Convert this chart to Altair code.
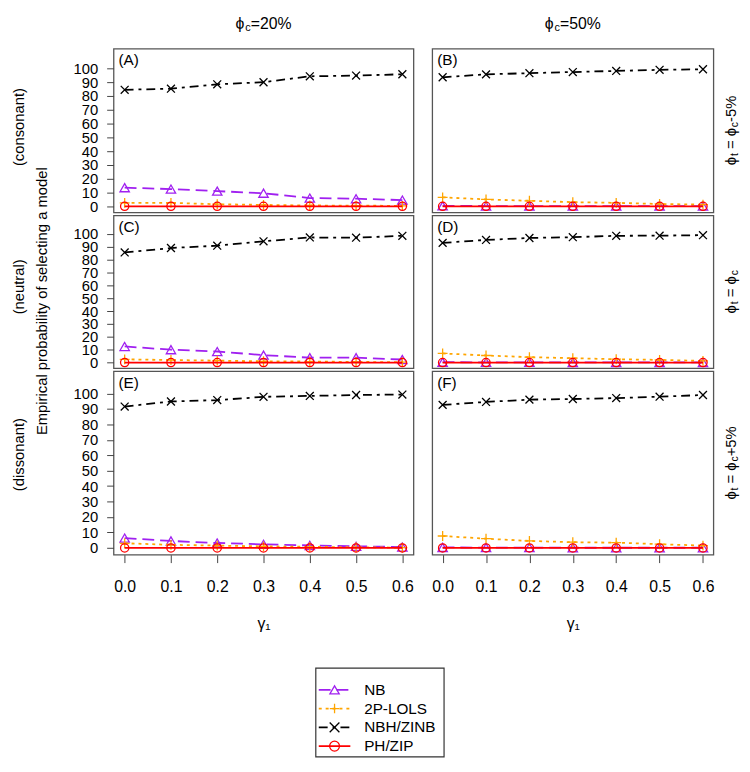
import altair as alt
import pandas as pd

# ---------------- data ----------------
gamma = [0.0, 0.1, 0.2, 0.3, 0.4, 0.5, 0.6]
series_names = ["NB", "2P-LOLS", "NBH/ZINB", "PH/ZIP"]
y_ticks = [0, 10, 20, 30, 40, 50, 60, 70, 80, 90, 100]

col_titles = ["=20%", "=50%"]
row_left_labels = ["(consonant)", "(neutral)", "(dissonant)"]
row_right_suffix = ["-5%", "", "+5%"]
panel_letters = ["(A)", "(B)", "(C)", "(D)", "(E)", "(F)"]
y_title = "Empirical probability of selecting a model"
x_title = "γ₁"

# panel A: phi_c = 20%, consonant
A_nb = [13.5, 12.5, 11.0, 9.5, 6.0, 5.5, 4.5]
A_lols = [2.5, 2.5, 1.5, 1.0, 0.6, 0.5, 0.3]
A_nbh = [84.5, 85.3, 88.5, 90.0, 94.3, 94.8, 95.8]
A_ph = [0.0, 0.0, 0.0, 0.0, 0.0, 0.0, 0.0]
# panel B: phi_c = 50%, consonant
B_nb = [0.3, 0.2, 0.2, 0.1, 0.1, 0.1, 0.1]
B_lols = [6.5, 5.0, 4.0, 3.0, 2.5, 1.7, 1.2]
B_nbh = [93.6, 95.7, 96.6, 97.4, 98.2, 99.0, 99.4]
B_ph = [0.0, 0.0, 0.0, 0.0, 0.0, 0.0, 0.0]
# panel C: phi_c = 20%, neutral
C_nb = [12.5, 10.0, 8.6, 5.8, 3.8, 3.8, 2.4]
C_lols = [2.5, 2.0, 1.5, 1.0, 0.8, 0.5, 0.3]
C_nbh = [85.6, 89.0, 90.8, 94.2, 97.2, 97.0, 98.5]
C_ph = [0.0, 0.0, 0.0, 0.0, 0.0, 0.0, 0.0]
# panel D: phi_c = 50%, neutral
D_nb = [0.3, 0.2, 0.2, 0.1, 0.1, 0.1, 0.1]
D_lols = [7.1, 5.5, 4.2, 3.4, 2.6, 2.1, 1.3]
D_nbh = [93.0, 95.3, 96.8, 97.4, 98.5, 98.6, 99.0]
D_ph = [0.0, 0.0, 0.0, 0.0, 0.0, 0.0, 0.0]
# panel E: phi_c = 20%, dissonant
E_nb = [6.4, 4.5, 3.2, 2.3, 1.6, 1.0, 0.6]
E_lols = [3.0, 2.0, 1.5, 1.0, 0.7, 0.4, 0.2]
E_nbh = [91.5, 94.8, 95.7, 97.8, 98.4, 99.0, 99.3]
E_ph = [0.0, 0.0, 0.0, 0.0, 0.0, 0.0, 0.0]
# panel F: phi_c = 50%, dissonant
F_nb = [0.3, 0.2, 0.2, 0.1, 0.1, 0.1, 0.1]
F_lols = [7.7, 6.0, 4.5, 3.7, 3.4, 2.4, 1.5]
F_nbh = [92.6, 94.5, 96.0, 96.4, 97.0, 97.9, 99.0]
F_ph = [0.0, 0.0, 0.0, 0.0, 0.0, 0.0, 0.0]

PANELS = [
    [A_nb, A_lols, A_nbh, A_ph],
    [B_nb, B_lols, B_nbh, B_ph],
    [C_nb, C_lols, C_nbh, C_ph],
    [D_nb, D_lols, D_nbh, D_ph],
    [E_nb, E_lols, E_nbh, E_ph],
    [F_nb, F_lols, F_nbh, F_ph],
]

# ---------------- style ----------------
FONT = "Liberation Sans"
COLORS = ["#A020F0", "#FFA500", "#000000", "#FF0000"]
DASHES = [[12, 6], [3, 4], [9, 5, 3, 5], [1, 0]]
SHAPES = ["triangle-up", "M-1,0L1,0M0,-1L0,1", "M-1,-1L1,1M-1,1L1,-1", "circle"]
SIZES = [90, 100, 64, 70]
COL_W = [304, 285]
ROW_H = [166, 155, 186]
YDOM = [-4.4, 114.4]
XDOM = [-0.024, 0.624]
LEFT_TITLE_Y = [79, 72, 84]

CW = {"ϕ": 0.62, "c": 0.5, "t": 0.278, "=": 0.584, " ": 0.278, "-": 0.333,
      "+": 0.584, "%": 0.889}

NOVIEW = alt.ViewBackground(stroke="transparent")


def text_w(s, fs):
    return sum(CW.get(ch, 0.556) for ch in s) * fs


def rich(pieces, x, y, angle=0):
    total = sum(text_w(t, fs) for t, fs, dy in pieces)
    off = -total / 2
    out = []
    for t, fs, dy in pieces:
        lead = len(t) - len(t.lstrip(" "))
        s = t.strip(" ")
        out.append(
            alt.Chart(pd.DataFrame({"t": [s]}))
            .mark_text(align="left", baseline="middle", fontSize=fs,
                       dx=off + lead * CW[" "] * fs, dy=dy, angle=angle,
                       color="black")
            .encode(x=alt.value(x), y=alt.value(y), text="t:N")
        )
        off += text_w(t, fs)
    return out


def make_panel(r, c):
    idx = 2 * r + c
    w, h = COL_W[c], ROW_H[r]
    if c == 0:
        yaxis = alt.Axis(values=y_ticks, tickSize=7, labelPadding=9,
                         labelFontSize=15, labelOverlap=False, domain=False,
                         grid=False, tickColor="#444", labelColor="black",
                         title=row_left_labels[r], titleFontSize=15,
                         titleFontWeight="normal", titleColor="black",
                         titleAngle=270, titleBaseline="bottom",
                         titleAlign="center", titleX=-88,
                         titleY=LEFT_TITLE_Y[r])
    else:
        yaxis = None
    if r == 2:
        xaxis = alt.Axis(values=gamma, format=".1f", tickSize=8,
                         labelPadding=16, labelFontSize=16, labelFlush=False,
                         labelOverlap=False, domain=False, grid=False,
                         tickColor="#444", labelColor="black", title=x_title,
                         titleFontSize=16, titleFontWeight="normal",
                         titleColor="black", titlePadding=22)
    else:
        xaxis = None
    xenc = alt.X("gamma:Q", scale=alt.Scale(domain=XDOM, nice=False, zero=False), axis=xaxis)
    yenc = alt.Y("value:Q", scale=alt.Scale(domain=YDOM, nice=False, zero=False), axis=yaxis)
    layers = []
    for i, name in enumerate(series_names):
        df = pd.DataFrame({"gamma": gamma, "value": PANELS[idx][i]})
        kw = dict(color=COLORS[i], strokeWidth=1.8)
        if i != 3:
            kw["strokeDash"] = DASHES[i]
        layers.append(alt.Chart(df).mark_line(**kw).encode(x=xenc, y=yenc))
        layers.append(
            alt.Chart(df).mark_point(shape=SHAPES[i], size=SIZES[i], filled=False,
                                     color=COLORS[i], strokeWidth=1.3, opacity=1)
            .encode(x=xenc, y=yenc)
        )
    layers.append(
        alt.Chart(pd.DataFrame({"t": [panel_letters[idx]]}))
        .mark_text(align="left", baseline="top", fontSize=15.5, color="black")
        .encode(x=alt.value(5), y=alt.value(5), text="t:N")
    )
    if c == 0 and r == 1:
        layers.append(
            alt.Chart(pd.DataFrame({"t": [y_title]}))
            .mark_text(align="center", baseline="middle", fontSize=15,
                       angle=270, color="black")
            .encode(x=alt.value(-72), y=alt.value(87), text="t:N")
        )
    if c == 1:
        pieces = [("ϕ", 15, 0), ("t", 10.5, 4), (" = ϕ", 15, 0), ("c", 10.5, 4)]
        if row_right_suffix[r]:
            pieces.append((row_right_suffix[r], 15, 0))
        layers += rich(pieces, w + 18, h / 2, angle=270)
    return alt.layer(*layers).properties(width=w, height=h)


# title cells
titles = []
for c in range(2):
    lay = rich([("ϕ", 16, 0), ("c", 11, 4.5), (col_titles[c], 16, 0)], COL_W[c] / 2, 10)
    titles.append(alt.layer(*lay).properties(width=COL_W[c], height=32, view=NOVIEW))

panels = [make_panel(r, c) for r in range(3) for c in range(2)]

# legend (placed in the left column, extends to the right)
leg_df = pd.DataFrame({"series": series_names})
ly = alt.Y("series:N", scale=alt.Scale(type="point", domain=series_names, range=[134, 191], padding=0), axis=None)
lcolor = alt.Color("series:N", scale=alt.Scale(domain=series_names, range=COLORS), legend=None)
box = alt.Chart(pd.DataFrame({"a": [0]})).mark_rect(fill="white", stroke="#333", strokeWidth=1.2).encode(
    x=alt.value(205), x2=alt.value(335), y=alt.value(112), y2=alt.value(202))
lrules = alt.Chart(leg_df).mark_rule(strokeWidth=1.8).encode(
    x=alt.value(208), x2=alt.value(240), y=ly, color=lcolor,
    strokeDash=alt.StrokeDash("series:N", scale=alt.Scale(domain=series_names, range=DASHES), legend=None))
lpts = alt.Chart(leg_df).mark_point(filled=False, strokeWidth=1.3, opacity=1).encode(
    x=alt.value(224), y=ly, color=lcolor,
    shape=alt.Shape("series:N", scale=alt.Scale(domain=series_names, range=SHAPES), legend=None),
    size=alt.Size("series:N", scale=alt.Scale(domain=series_names, range=SIZES), legend=None))
ltext = alt.Chart(leg_df).mark_text(align="left", baseline="middle", fontSize=15.5, color="black").encode(
    x=alt.value(254), y=ly, text="series:N")
legend_chart = alt.layer(box, lrules, lpts, ltext).properties(
    width=COL_W[0], height=203, view=NOVIEW)

chart = alt.concat(*titles, *panels, legend_chart, columns=2,
                   spacing={"row": 3, "column": 19}, bounds="flush").properties(
    padding={"left": 3, "top": 0, "right": 0, "bottom": 0}
).configure(font=FONT).configure_view(stroke="#555", strokeWidth=1.3)

chart.save("out.html", embed_options={"renderer": "svg", "actions": False})
